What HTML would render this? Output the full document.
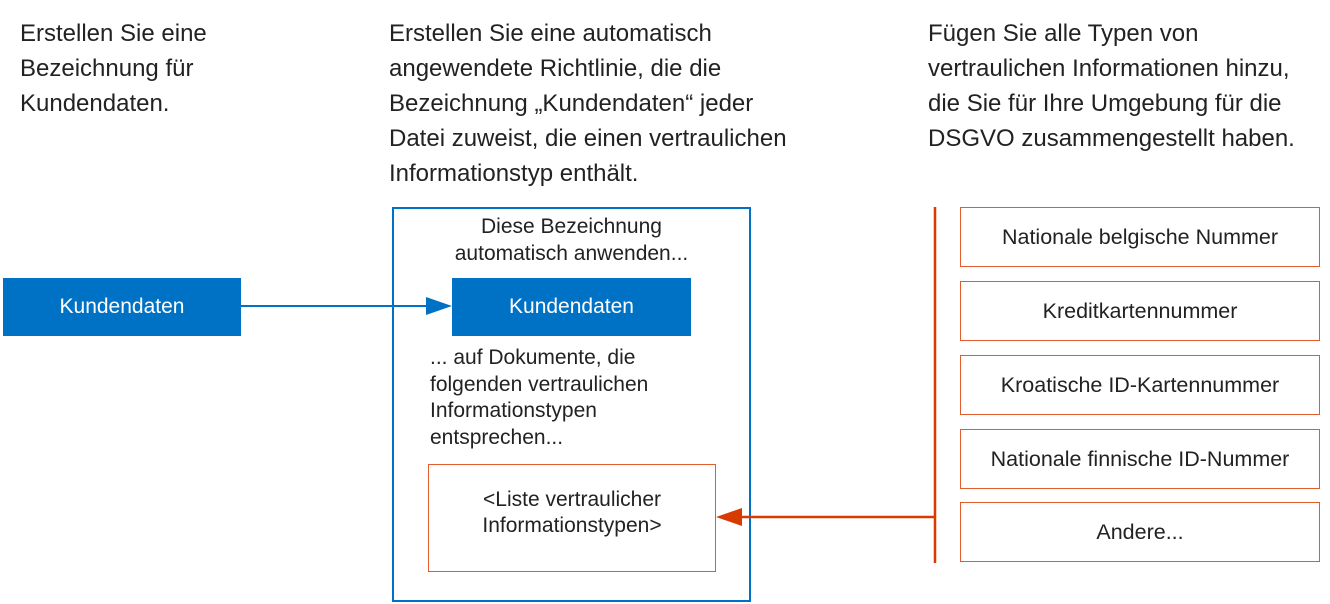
<!DOCTYPE html>
<html><head><meta charset="utf-8"><style>
body{margin:0;width:1330px;height:604px;background:#fff;position:relative;overflow:hidden;font-family:"Liberation Sans",sans-serif;color:#222}
.t{position:absolute;font-size:24px;line-height:35px;white-space:nowrap}
.s{position:absolute;font-size:21px;line-height:26.5px;white-space:nowrap}
.bb{position:absolute;background:#0072C6;color:#fff;font-size:21px;display:flex;align-items:center;justify-content:center}
.ob{position:absolute;border:1px solid #E35A2B;box-sizing:border-box;font-size:21.5px;display:flex;align-items:center;justify-content:center;text-align:center}
</style></head><body>
<div class="t" style="left:20px;top:16px">Erstellen Sie eine<br>Bezeichnung für<br>Kundendaten.</div>
<div class="t" style="left:389px;top:16px">Erstellen Sie eine automatisch<br>angewendete Richtlinie, die die<br>Bezeichnung „Kundendaten“ jeder<br>Datei zuweist, die einen vertraulichen<br>Informationstyp enthält.</div>
<div class="t" style="left:928px;top:16px">Fügen Sie alle Typen von<br>vertraulichen Informationen hinzu,<br>die Sie für Ihre Umgebung für die<br>DSGVO zusammengestellt haben.</div>
<div class="bb" style="left:3px;top:278px;width:238px;height:58px">Kundendaten</div>
<div style="position:absolute;left:392px;top:207px;width:359px;height:395px;border:2px solid #0072C6;box-sizing:border-box"></div>
<div class="s" style="left:392px;width:359px;text-align:center;top:214px">Diese Bezeichnung<br>automatisch anwenden...</div>
<div class="bb" style="left:452px;top:278px;width:239px;height:58px">Kundendaten</div>
<div class="s" style="left:430px;top:345px">... auf Dokumente, die<br>folgenden vertraulichen<br>Informationstypen<br>entsprechen...</div>
<div class="ob" style="left:428px;top:464px;width:288px;height:108px;align-items:flex-start;padding-top:22px;line-height:26px;font-size:21px">&lt;Liste vertraulicher<br>Informationstypen&gt;</div>
<div class="ob" style="left:960px;top:207px;width:360px;height:60px">Nationale belgische Nummer</div>
<div class="ob" style="left:960px;top:281px;width:360px;height:60px">Kreditkartennummer</div>
<div class="ob" style="left:960px;top:355px;width:360px;height:60px">Kroatische ID-Kartennummer</div>
<div class="ob" style="left:960px;top:429px;width:360px;height:60px">Nationale finnische ID-Nummer</div>
<div class="ob" style="left:960px;top:502px;width:360px;height:60px">Andere...</div>
<svg width="1330" height="604" style="position:absolute;left:0;top:0">
<line x1="241" y1="306" x2="430" y2="306" stroke="#0072C6" stroke-width="2"/>
<polygon points="452,306 426,297 426,315" fill="#0072C6"/>
<line x1="935" y1="207" x2="935" y2="563" stroke="#D83B01" stroke-width="2.5"/>
<line x1="935" y1="517" x2="738" y2="517" stroke="#D83B01" stroke-width="2.5"/>
<polygon points="716,517 742,508 742,526" fill="#D83B01"/>
</svg>
</body></html>
